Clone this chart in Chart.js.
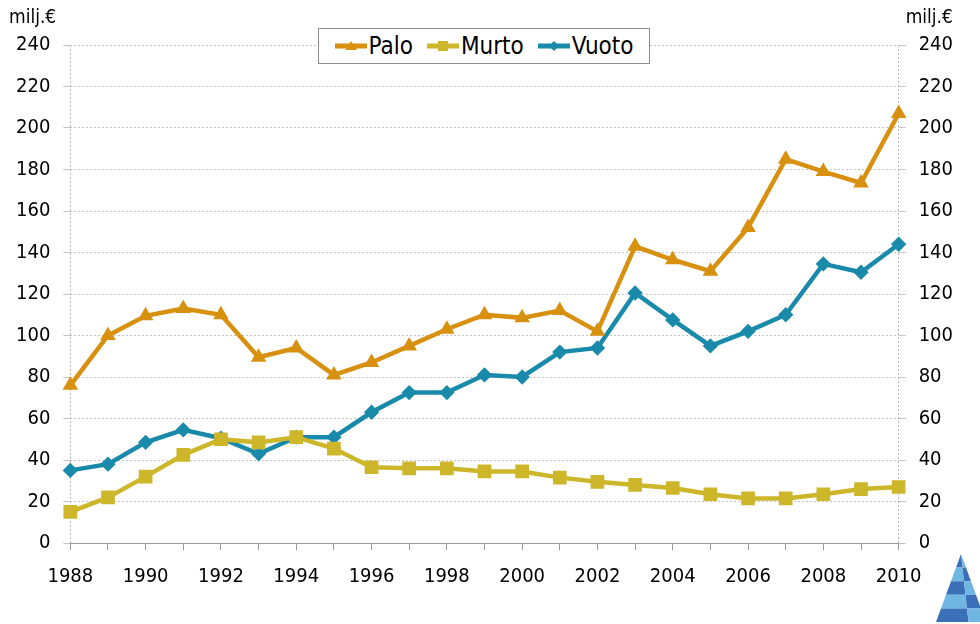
<!DOCTYPE html>
<html>
<head>
<meta charset="utf-8">
<script src="https://cdn.jsdelivr.net/npm/chart.js@4/dist/chart.umd.min.js"></script>
<style>
    html, body { margin: 0; padding: 0; background: #fff; }
    #wrap { position: relative; width: 980px; height: 624px; }
    #legend {
        position: absolute; left: 318px; top: 28px; width: 330px; height: 34px;
        border: 1px solid #8c8c8c; background: #fff;
        display: flex; align-items: center; justify-content: center; gap: 14px;
        font-family: "DejaVu Sans Condensed", "DejaVu Sans", sans-serif; font-size: 24px; color: #000;
    }
    #legend span.item { display: flex; align-items: center; gap: 2px; }
</style>
</head>
<body>
<div id="wrap">
    <canvas id="chart" width="980" height="624"></canvas>
    <div id="legend"></div>
</div>
<script>
const years = ["1988", "1989", "1990", "1991", "1992", "1993", "1994", "1995", "1996", "1997", "1998", "1999",
               "2000", "2001", "2002", "2003", "2004", "2005", "2006", "2007", "2008", "2009", "2010"];
const palo  = [76, 100, 109.5, 113, 110, 89.5, 94, 81, 87, 95, 103, 110, 108.5, 112, 102, 143, 136.5, 131, 152, 185, 179, 173.5, 207];
const murto = [15, 22, 32, 42.5, 50, 48.5, 51, 45.5, 36.5, 36, 36, 34.5, 34.5, 31.5, 29.5, 28, 26.5, 23.5, 21.5, 21.5, 23.5, 26, 27];
const vuoto = [35, 38, 48.5, 54.5, 50.5, 43, 51, 51, 63, 72.5, 72.5, 81, 80, 92, 94, 120.5, 107.5, 95, 102, 110, 134.5, 130.5, 144];
const yTicks = [0, 20, 40, 60, 80, 100, 120, 140, 160, 180, 200, 220, 240];
const unitLabel = "milj.€";

const FONT = '"DejaVu Sans Condensed", "DejaVu Sans", sans-serif';

const series = [
    { label: "Palo",  data: palo,  color: "#d8900f", point: "triangle", radius: 4.5 },
    { label: "Murto", data: murto, color: "#cdb62a", point: "rect",     radius: 6.5 },
    { label: "Vuoto", data: vuoto, color: "#1a8aaa", point: "rectRot",  radius: 4.5 },
];

// html legend with line + marker icons
function markerSvg(s) {
    let m;
    if (s.point === "triangle") m = '<polygon points="16,3 22,12 10,12" fill="' + s.color + '"/>';
    else if (s.point === "rect") m = '<rect x="11" y="3" width="10" height="10" fill="' + s.color + '"/>';
    else m = '<polygon points="16,3 21,8 16,13 11,8" fill="' + s.color + '"/>';
    return '<svg width="32" height="16"><line x1="0" y1="8" x2="32" y2="8" stroke="' + s.color +
        '" stroke-width="5" stroke-linecap="round"/>' + m + '</svg>';
}
document.getElementById("legend").innerHTML = series
    .map(s => '<span class="item">' + markerSvg(s) + '<span>' + s.label + '</span></span>')
    .join("");

const sidePlugin = {
    id: "sideTexts",
    afterDraw(chart) {
        const ctx = chart.ctx;
        const right = chart.scales.y2;
        ctx.save();
        ctx.fillStyle = "#000";
        ctx.font = "19px " + FONT;
        ctx.textBaseline = "middle";
        ctx.textAlign = "left";
        ctx.fillText(unitLabel, 9, 18);
        ctx.fillText(unitLabel, right.left + 7, 18);

        // little logo in the corner
        const ax = 961, ay = 554, by = 622, bl = 936, br = 986;
        const bands = ["#3b70b8", "#6fb7e2"];
        for (let i = 0; i < 5; i++) {
            const t0 = i / 5, t1 = (i + 1) / 5;
            const y0 = ay + (by - ay) * t0, y1 = ay + (by - ay) * t1;
            const l0 = ax + (bl - ax) * t0, l1 = ax + (bl - ax) * t1;
            const r0 = ax + (br - ax) * t0, r1 = ax + (br - ax) * t1;
            ctx.fillStyle = bands[i % 2];
            ctx.beginPath();
            ctx.moveTo(l0, y0); ctx.lineTo(ax + (r0 - ax) * 0.3, y0);
            ctx.lineTo(ax + (r1 - ax) * 0.3, y1); ctx.lineTo(l1, y1); ctx.closePath(); ctx.fill();
            ctx.fillStyle = bands[(i + 1) % 2];
            ctx.beginPath();
            ctx.moveTo(ax + (r0 - ax) * 0.3, y0); ctx.lineTo(r0, y0);
            ctx.lineTo(r1, y1); ctx.lineTo(ax + (r1 - ax) * 0.3, y1); ctx.closePath(); ctx.fill();
        }
        ctx.restore();
    }
};

const lastIdx = years.length - 1;

new Chart(document.getElementById("chart"), {
    type: "line",
    data: {
        labels: years,
        datasets: series.map(s => ({
            label: s.label,
            data: s.data,
            borderColor: s.color,
            backgroundColor: s.color,
            borderWidth: 4.5,
            pointStyle: s.point,
            pointRadius: s.radius,
            pointHoverRadius: s.radius,
            tension: 0,
            yAxisID: "y",
        })),
    },
    options: {
        responsive: false,
        animation: false,
        layout: { padding: { top: 45, left: 3, right: 14, bottom: 20 } },
        plugins: { legend: { display: false }, tooltip: { enabled: false } },
        scales: {
            x: {
                grid: {
                    color: c => (c.index === 0 || c.index === lastIdx) ? "#b4b4b4" : "rgba(0,0,0,0)",
                    tickColor: "#9a9a9a",
                    tickLength: 7,
                },
                border: { color: "#9a9a9a", width: 1, dash: [2, 2] },
                ticks: {
                    autoSkip: false,
                    maxRotation: 0,
                    padding: 15,
                    color: "#000",
                    font: { family: FONT, size: 20 },
                    callback: (v, i) => i % 2 === 0 ? years[i] : "",
                },
            },
            y: {
                position: "left",
                min: 0, max: 240,
                afterBuildTicks: axis => { axis.ticks = yTicks.map(v => ({ value: v })); },
                grid: { color: "#c4c4c4", tickColor: "#c4c4c4", tickLength: 7 },
                border: { display: false, dash: [2, 2] },
                ticks: { padding: 13, color: "#000", font: { family: FONT, size: 20 } },
            },
            y2: {
                position: "right",
                min: 0, max: 240,
                afterBuildTicks: axis => { axis.ticks = yTicks.map(v => ({ value: v })); },
                grid: { drawOnChartArea: false, color: "#c4c4c4", tickColor: "#c4c4c4", tickLength: 7 },
                border: { display: false },
                ticks: { padding: 13, color: "#000", font: { family: FONT, size: 20 } },
            },
        },
    },
    plugins: [sidePlugin],
});
</script>
</body>
</html>
